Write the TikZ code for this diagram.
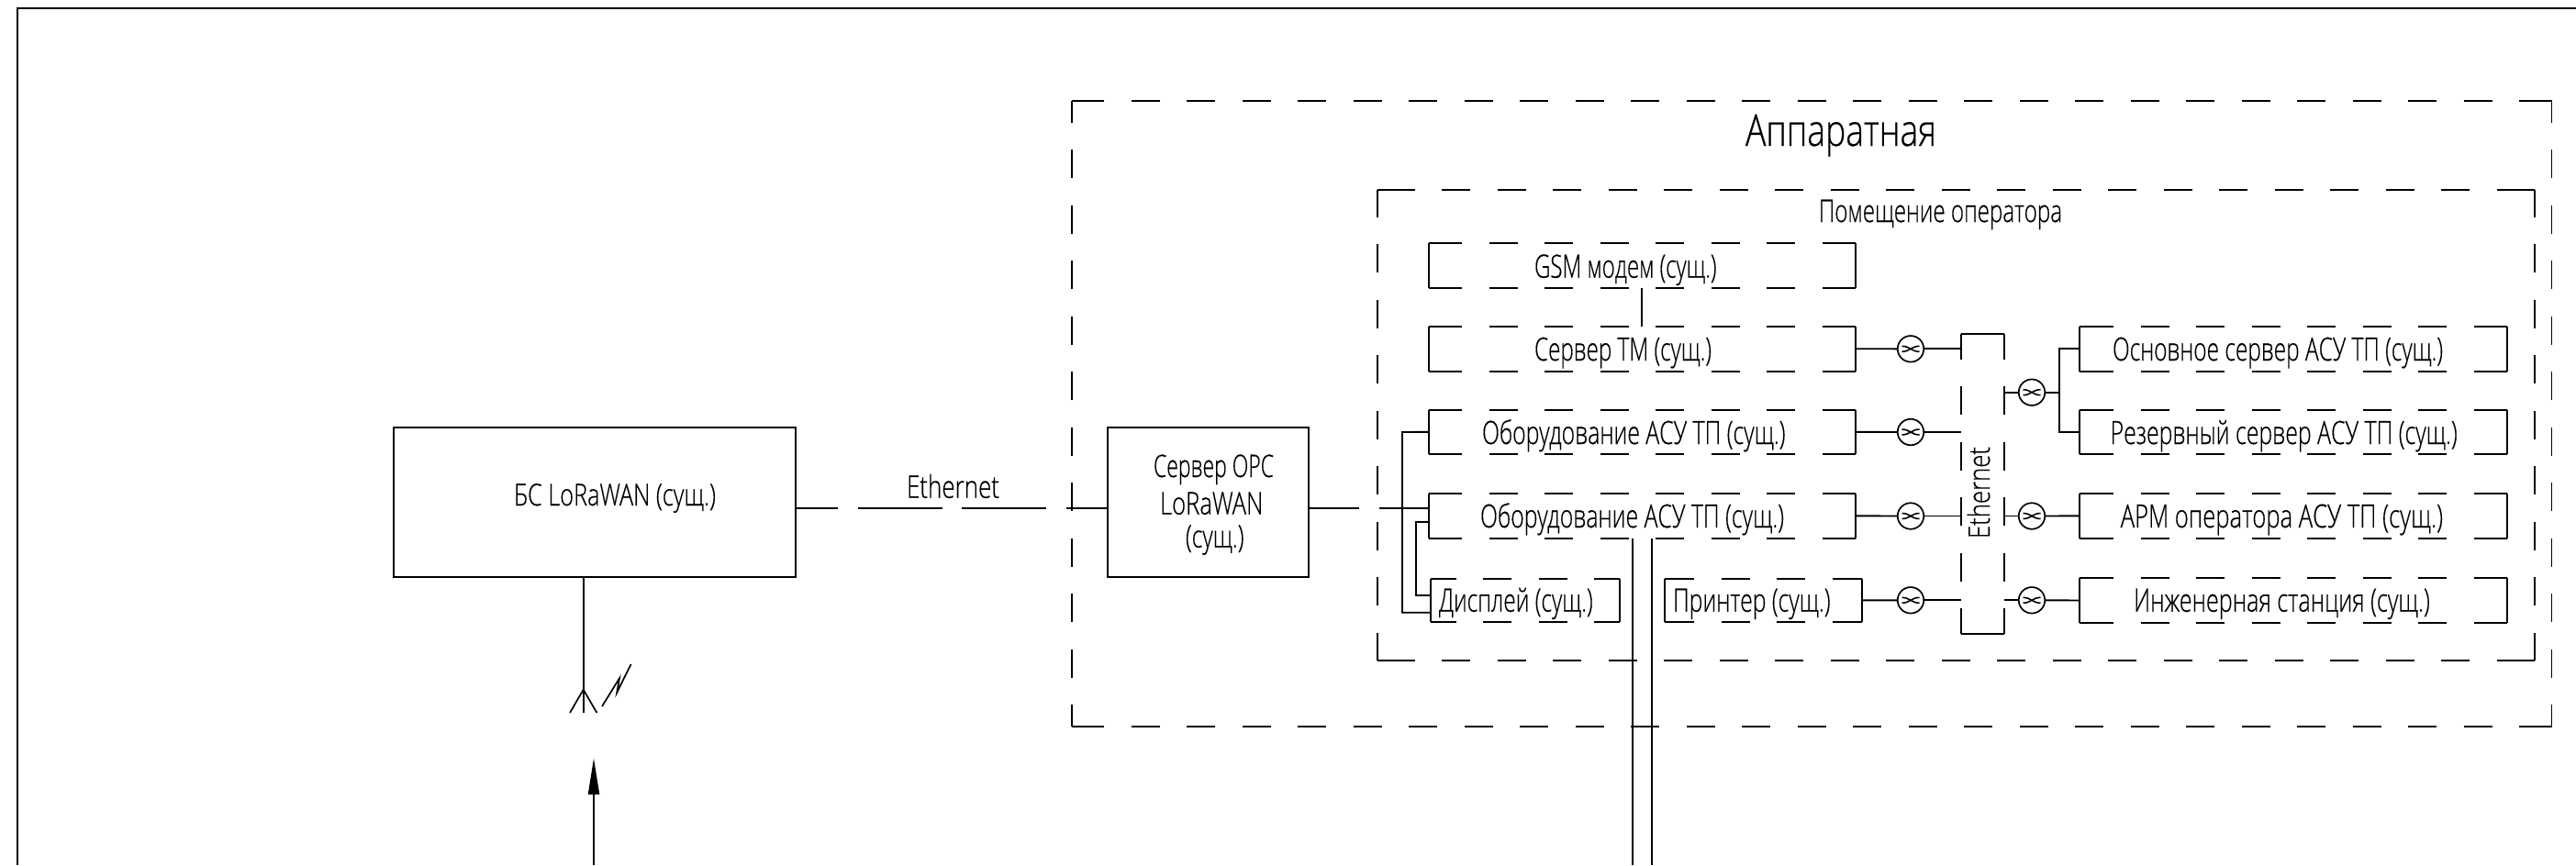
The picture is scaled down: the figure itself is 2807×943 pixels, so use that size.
\documentclass[tikz,border=0pt]{standalone}
\usepackage{fontspec}
\usepackage{graphicx}
\setmainfont[FakeBold=0.5]{Open Sans Light}
\usetikzlibrary{arrows.meta,calc}
\tikzset{
  ln/.style={line width=1.9pt,black,line cap=butt},
  thinln/.style={line width=1.7pt,black},
  boxn/.style={rectangle,inner sep=0pt,outer sep=0pt,draw=none},
  solidbox/.style={rectangle,inner sep=0pt,outer sep=0pt,draw=black,line width=1.9pt},
  lbl/.style={inner sep=0pt,outer sep=0pt,anchor=base west},
  splicec/.style={circle,draw=black,line width=1.7pt,minimum size=28.5pt,inner sep=0pt,outer sep=0pt}
}
% one side of a dashed outline: {length}{start}{end}; both ends carry equal dashes
\newcommand\dedge[3]{%
  \pgfmathparse{#1>60.5?1:0}%
  \ifnum\pgfmathresult=1
    \pgfmathsetmacro\dk{floor((#1-60.5)/60.5)}%
    \pgfmathsetmacro\de{(#1-29.5-\dk*60.5)/2}%
    \pgfmathsetmacro\dm{\de+29.5}%
    \draw[ln] #2 -- ($#2!\de pt!#3$);
    \draw[ln] #3 -- ($#3!\de pt!#2$);
    \draw[ln,dash pattern=on 31pt off 29.5pt] ($#2!\dm pt!#3$) -- ($#3!\dm pt!#2$);
  \else
    \draw[ln] #2 -- #3;
  \fi}
% dashed box {name}{x1}{y1}{x2}{y2}
\newcommand\dbox[5]{%
  \pgfmathsetmacro\bw{#4-#2}\pgfmathsetmacro\bh{#5-#3}%
  \node[boxn,minimum width=\bw pt,minimum height=\bh pt] (#1) at ({(#2+#4)/2},{(#3+#5)/2}) {};
  \dedge{\bw}{(#1.north west)}{(#1.north east)}
  \dedge{\bw}{(#1.south west)}{(#1.south east)}
  \dedge{\bh}{(#1.north west)}{(#1.south west)}
  \dedge{\bh}{(#1.north east)}{(#1.south east)}}
% text {name}{left}{right}{baseline}{size}{text}
\newcommand\tlabel[6]{%
  \pgfmathsetmacro\tw{#3-#2}%
  \node[lbl,font=\fontsize{#5}{#5}\selectfont] (#1) at (#2,#4) {\resizebox{\tw pt}{\height}{#6}};}
% splice symbol
\newcommand\splice[3]{%
  \node[splicec] (#1) at (#2,#3) {};
  \draw[line width=1.6pt] ($(#1)+(-9.5,-3)$) .. controls ($(#1)+(-1,-3)$) and ($(#1)+(1,3)$) .. ($(#1)+(9.5,3)$);
  \draw[line width=1.6pt] ($(#1)+(-9.5,3)$) .. controls ($(#1)+(-1,3)$) and ($(#1)+(1,-3)$) .. ($(#1)+(9.5,-3)$);}
\begin{document}
\begin{tikzpicture}[x=1pt,y=-1pt]
\useasboundingbox (0,0) rectangle (2807,943);
% frame
\coordinate (fa) at (19,943);
\coordinate (fb) at (19,8.7);
\coordinate (fc) at (2807,8.7);
\draw[line width=2pt] (fa) -- (fb) -- (fc);

% rooms
\dbox{outer}{1168}{110}{2780.5}{791.7}
\dbox{inner}{1501}{207}{2761.7}{719.7}
\tlabel{touter}{1902}{2110}{159}{48}{Аппаратная}
\tlabel{tinner}{1982}{2247}{242}{34}{Помещение оператора}

% left boxes
\node[solidbox,minimum width=438pt,minimum height=163pt] (bs) at (648,547.2) {};
\node[solidbox,minimum width=219.6pt,minimum height=163pt] (opc) at (1316.5,547.2) {};
\tlabel{tbs}{560}{780}{551}{33}{БС LoRaWAN (сущ.)}
\tlabel{topca}{1257}{1388}{520}{34}{Сервер OPC}
\tlabel{topcb}{1264}{1376.5}{560.7}{34}{LoRaWAN}
\tlabel{topcc}{1292}{1355.5}{596.7}{34}{(сущ.)}
\tlabel{teth}{988}{1089}{542.7}{34}{Ethernet}

% inner boxes
\dbox{gsm}{1556.7}{265}{2022}{314}
\dbox{tm}{1556.7}{355.7}{2022}{404.7}
\dbox{eqa}{1556.7}{446.7}{2022}{495}
\dbox{eqb}{1556.7}{538}{2022}{586.7}
\dbox{disp}{1559}{630.7}{1765}{678}
\dbox{prn}{1814}{630.7}{2029}{678}
\dbox{srva}{2266.3}{355.7}{2732.3}{404.7}
\dbox{srvb}{2266.3}{446.7}{2732.3}{495}
\dbox{arm}{2266.3}{538}{2732.3}{586.7}
\dbox{eng}{2266.3}{630}{2732.3}{679}
\dbox{bus}{2137}{364.3}{2183.7}{691}

\tlabel{tgsm}{1672}{1870.5}{302.7}{35}{GSM модем (сущ.)}
\tlabel{ttm}{1672}{1865}{393}{35}{Сервер ТМ (сущ.)}
\tlabel{teqa}{1615}{1945.5}{484}{35}{Оборудование АСУ ТП (сущ.)}
\tlabel{teqb}{1613}{1944}{575}{35}{Оборудование АСУ ТП (сущ.)}
\tlabel{tdisp}{1568}{1735.7}{666.7}{35}{Дисплей (сущ.)}
\tlabel{tprn}{1823}{1994.6}{666.7}{35}{Принтер (сущ.)}
\tlabel{tsrva}{2302}{2662}{393}{35}{Основное сервер АСУ ТП (сущ.)}
\tlabel{tsrvb}{2299.6}{2677.7}{484}{35}{Резервный сервер АСУ ТП (сущ.)}
\tlabel{tarm}{2310.7}{2662}{575}{35}{АРМ оператора АСУ ТП (сущ.)}
\tlabel{teng}{2325}{2647.8}{666.7}{35}{Инженерная станция (сущ.)}
\node[inner sep=0pt,outer sep=0pt,anchor=base,rotate=90,font=\fontsize{32}{32}\selectfont] (tbus) at (2168,537) {\resizebox{100pt}{\height}{Ethernet}};

% splices
\splice{sa}{2082}{380.3}
\splice{sb}{2082}{471}
\splice{sc}{2082}{562.5}
\splice{sd}{2082}{654.3}
\splice{se}{2214}{427.7}
\splice{sf}{2214}{562.5}
\splice{sg}{2214}{654.3}

\draw[ln] (tm.east) -- (sa.west);
\draw[ln] (eqa.east) -- (sb.west);
\draw[ln] (eqb.east) -- (sc.west);
\draw[ln] (prn.east) -- (sd.west);
\draw[ln] (sa.east) -- (sa -| bus.west);
\draw[ln] (sb.east) -- (sb -| bus.west);
\draw[ln] (sc.east) -- (sc -| bus.west);
\draw[ln] (sd.east) -- (sd -| bus.west);
\draw[ln] (se.west) -- (se -| bus.east);
\draw[ln] (sf.west) -- (sf -| bus.east);
\draw[ln] (sg.west) -- (sg -| bus.east);
\draw[ln] (sf.east) -- (arm.west);
\draw[ln] (sg.east) -- (eng.west);
\coordinate (sj) at (2243.6,427.7);
\draw[ln] (se.east) -- (sj);
\draw[ln] (srva.west) -- (srva.west -| sj) -- (srvb.west -| sj) -- (srvb.west);

% links between boxes
\draw[ln] (gsm.south) -- (tm.north);
\draw[ln,dash pattern=on 92pt off 21.5pt,dash phase=46pt] (bs.east |- 0,554.3) -- (opc.west |- 0,554.3);
\draw[ln,dash pattern=on 92pt off 21.5pt,dash phase=37pt] (opc.east |- 0,554.3) -- (eqb.west |- 0,554.3);
\coordinate (ja) at (1528,471);
\coordinate (jb) at (1543,569.3);
\draw[ln] (eqa.west) -- (ja) -- (ja |- 0,667.7) -- (disp.west |- 0,667.7);
\draw[ln] (eqb.west |- jb) -- (jb) -- (jb |- 0,648.7) -- (disp.west |- 0,648.7);
\coordinate (da) at (1779,943);
\coordinate (db) at (1800,943);
\draw[ln] (da |- eqb.south) -- (da);
\draw[ln] (db |- eqb.south) -- (db);

% antenna
\coordinate (apex) at (635.7,751.7);
\coordinate (stem) at (635.7,777);
\coordinate (arml) at (621,777);
\coordinate (armr) at (650.4,777);
\draw[thinln] (bs.south -| apex) -- (stem);
\draw[thinln] (arml) -- (apex) -- (armr);
\coordinate (za) at (656,770);
\coordinate (zb) at (675,739.3);
\coordinate (zc) at (672.2,755);
\coordinate (zd) at (687.6,724);
\draw[thinln] (za) -- (zb) -- (zc) -- (zd);
\coordinate (aa) at (647,943);
\coordinate (ab) at (647,866);
\coordinate (ac) at (647,826.7);
\draw[thinln] (aa) -- (ab);
\fill (ac) -- (640.7,866) -- (653.3,866) -- cycle;
\end{tikzpicture}
\end{document}
